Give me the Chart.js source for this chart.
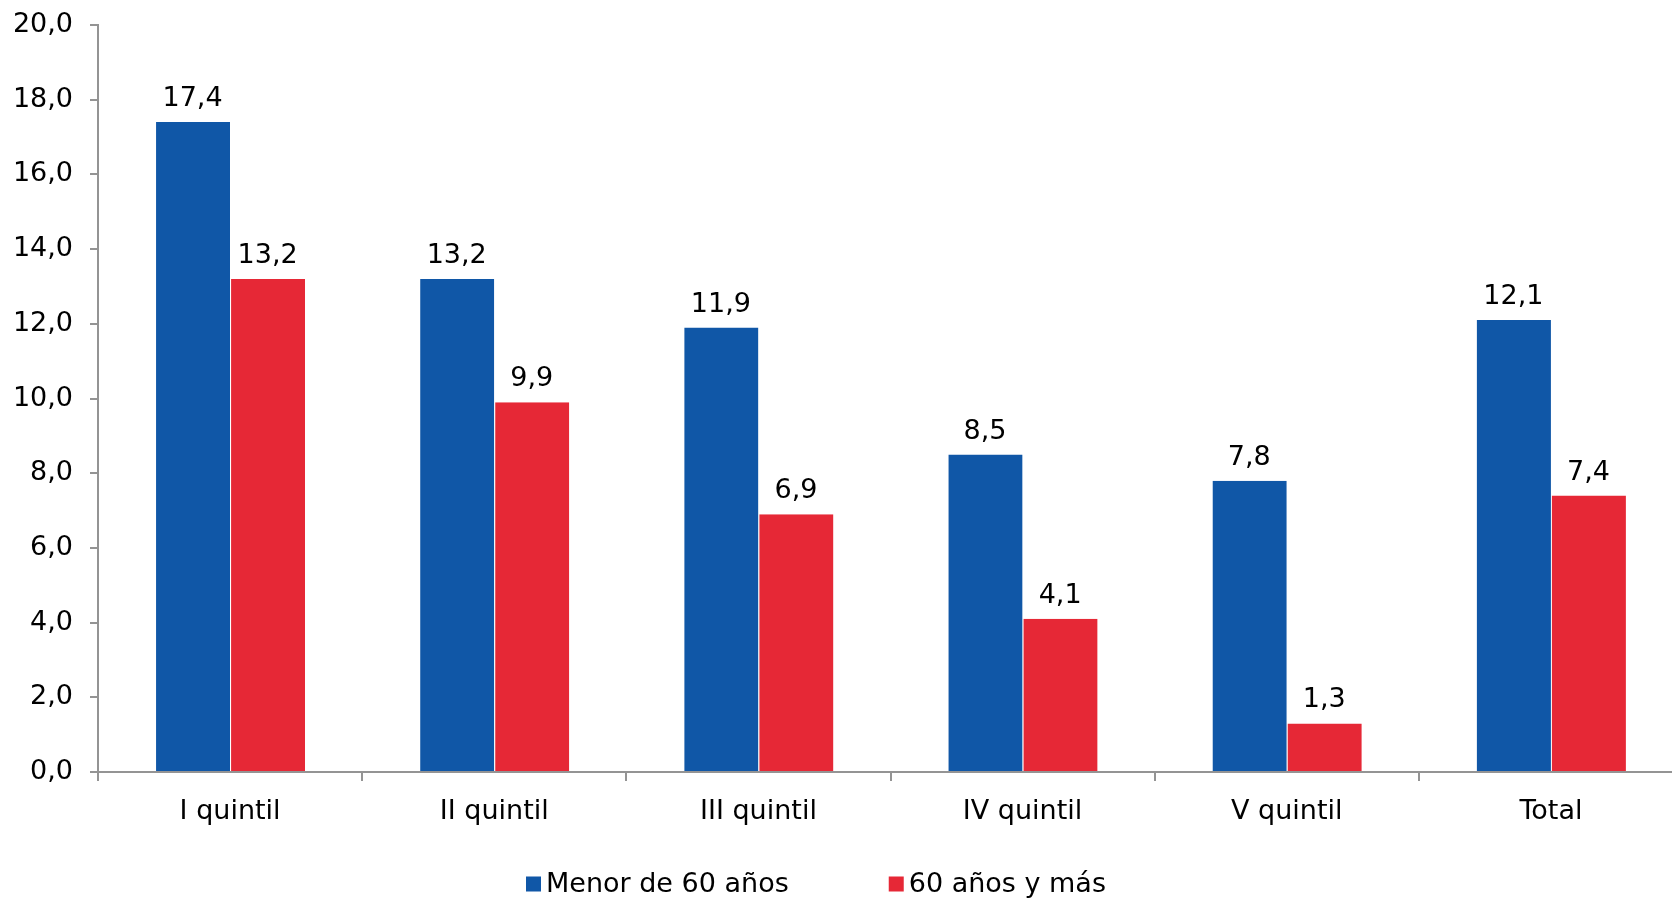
<!DOCTYPE html>
<html>
<head>
<meta charset="utf-8">
<script src="https://cdn.jsdelivr.net/npm/chart.js@4.4.0/dist/chart.umd.min.js"></script>
<style>
    html, body { margin: 0; padding: 0; background: #fff; overflow: hidden; }
    #wrap { width: 1690px; height: 898px; }
</style>
</head>
<body>
<div id="wrap"><canvas id="chart" width="1690" height="898"></canvas></div>
<script>
/* ==============================
   DATA
================================ */
const categories = ["I quintil", "II quintil", "III quintil", "IV quintil", "V quintil", "Total"];
const seriesNames = ["Menor de 60 años", "60 años y más"];
const menor60 = [17.4, 13.2, 11.9, 8.5, 7.8, 12.1];
const mayor60 = [13.2, 9.9, 6.9, 4.1, 1.3, 7.4];
const yMin = 0, yMax = 20, yStep = 2;

const FONT = '"DejaVu Sans", Verdana, sans-serif';
const FSIZE = 27;
const AXIS = "#949494";

function fmt(v) {
    return Number(v).toFixed(1).replace(".", ",");
}

/* ==============================
   VALUE LABELS ABOVE BARS
================================ */
const valueLabels = {
    id: "valueLabels",
    afterDatasetsDraw(chart) {
        const ctx = chart.ctx;
        ctx.save();
        ctx.font = FSIZE + "px " + FONT;
        ctx.fillStyle = "#000";
        ctx.textAlign = "center";
        ctx.textBaseline = "alphabetic";
        chart.data.datasets.forEach((ds, i) => {
            chart.getDatasetMeta(i).data.forEach((bar, j) => {
                ctx.fillText(fmt(ds.data[j]), bar.x, bar.y - 16);
            });
        });
        ctx.restore();
    }
};

/* ==============================
   LEGEND (BOTTOM)
================================ */
const bottomLegend = {
    id: "bottomLegend",
    afterDraw(chart) {
        const ctx = chart.ctx;
        ctx.save();
        ctx.font = FSIZE + "px " + FONT;
        ctx.textBaseline = "middle";
        ctx.textAlign = "left";
        let x = 526;
        const y = 884;
        chart.data.datasets.forEach(ds => {
            ctx.fillStyle = ds.backgroundColor;
            ctx.fillRect(x, y - 7.5, 15, 15);
            ctx.fillStyle = "#000";
            ctx.fillText(ds.label, x + 20, y + 1);
            x += 20 + ctx.measureText(ds.label).width + 100;
        });
        ctx.restore();
    }
};

/* ==============================
   CHART
================================ */
new Chart(document.getElementById("chart"), {
    type: "bar",
    data: {
        labels: categories,
        datasets: [
            { label: seriesNames[0], data: menor60, backgroundColor: "#1057A7",
              borderColor: "rgba(255,255,255,0.35)", borderWidth: { left: 1 } },
            { label: seriesNames[1], data: mayor60, backgroundColor: "#E62836",
              borderColor: "rgba(255,255,255,0.35)", borderWidth: { left: 1 } }
        ]
    },
    options: {
        responsive: false,
        animation: false,
        devicePixelRatio: 1,
        categoryPercentage: 0.568,
        barPercentage: 1.0,
        layout: { padding: { top: 25, right: 7, bottom: 66, left: 0 } },
        plugins: {
            legend: { display: false },
            tooltip: { enabled: false }
        },
        scales: {
            x: {
                offset: true,
                grid: { offset: true, drawOnChartArea: false, tickLength: 9, color: AXIS, lineWidth: 2 },
                border: { color: AXIS, width: 2 },
                ticks: { color: "#000", font: { family: FONT, size: FSIZE }, padding: 15 },
                afterFit(s) { s.height = 60; }
            },
            y: {
                min: yMin,
                max: yMax,
                ticks: {
                    stepSize: yStep,
                    color: "#000",
                    font: { family: FONT, size: FSIZE },
                    padding: 17,
                    callback: v => fmt(v)
                },
                grid: { drawOnChartArea: false, tickLength: 8, color: AXIS, lineWidth: 2 },
                border: { color: AXIS, width: 2 },
                afterFit(s) {
                    s.width = 98;
                    s.paddingTop = 10;
                    s.paddingBottom = 10;
                }
            }
        }
    },
    plugins: [valueLabels, bottomLegend]
});
</script>
</body>
</html>
